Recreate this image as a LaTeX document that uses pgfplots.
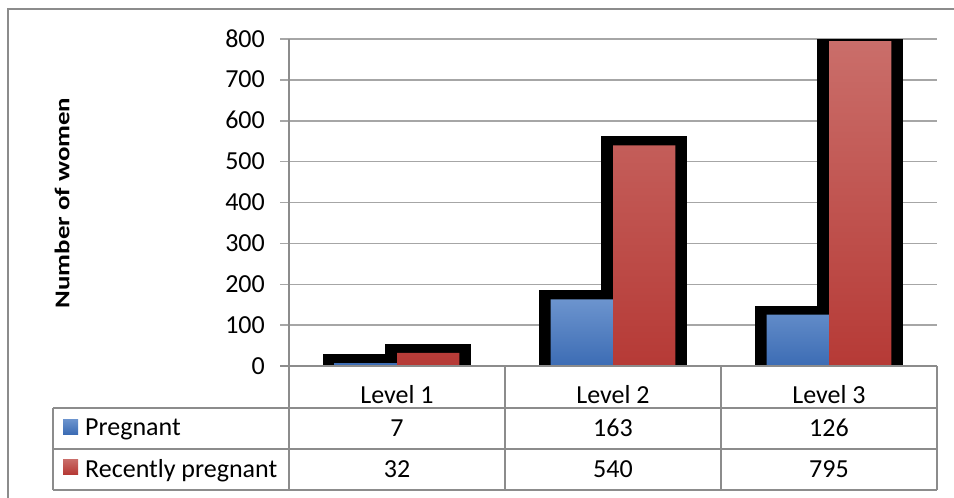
\documentclass[border=0pt]{standalone}
\usepackage{fontspec}
\setmainfont{Carlito}
\usepackage{graphicx}
\usepackage{pgfplots}
\pgfplotsset{compat=1.18}
\definecolor{bluetop}{RGB}{108,148,206}
\definecolor{bluebot}{RGB}{60,108,180}
\definecolor{redtop}{RGB}{202,110,106}
\definecolor{redbot}{RGB}{182,58,54}
\definecolor{tblgray}{RGB}{140,140,140}
\definecolor{gridgray}{RGB}{166,166,166}
\begin{document}
\begin{tikzpicture}[font=\fontsize{26}{31}\selectfont]
\useasboundingbox (0pt,0pt) rectangle (954pt,-498pt);
\draw[tblgray, line width=1.5pt] (8pt,-498pt) -- (8pt,-9pt) -- (954pt,-9pt);
\begin{axis}[
  at={(289pt,-366pt)}, anchor=south west,
  scale only axis, width=648pt, height=327pt,
  xmin=-0.5, xmax=2.5, ymin=0, ymax=800,
  xtick={0,1,2}, xticklabels={Level 1,Level 2,Level 3},
  ytick={0,100,...,800}, ytick pos=left,
  ymajorgrids, grid style={draw=gridgray, line width=1.5pt},
  axis line style={draw=none},
  xtick style={draw=none},
  ytick style={draw=gridgray, line width=1.5pt},
  tick align=outside, major tick length=9pt,
  /pgf/number format/assume math mode=true,
  tick label style={font=\fontsize{26}{31}\selectfont},
  yticklabel style={anchor=base east, inner sep=0pt, xshift=-15pt, yshift=-8pt},
  xticklabel style={anchor=base, inner sep=0pt, yshift=-28pt},
]
\addplot[ybar, bar width=0.3166, bar shift=-0.1445, fill=black, draw=black, line width=18pt, line join=miter]
  coordinates {(0,7) (1,163) (2,126)};
\addplot[ybar, bar width=0.3166, bar shift=0.1445, fill=black, draw=black, line width=18pt, line join=miter]
  coordinates {(0,32) (1,540) (2,795)};
\addplot[ybar, bar width=0.289, bar shift=-0.1445, draw=none, top color=bluetop, bottom color=bluebot]
  coordinates {(0,7) (1,163) (2,126)};
\addplot[ybar, bar width=0.289, bar shift=0.1445, draw=none, top color=redtop, bottom color=redbot]
  coordinates {(0,32) (1,540) (2,795)};
\end{axis}
\begin{scope}[tblgray, line width=1.5pt]
\draw (289pt,-39pt) -- (289pt,-490pt);
\draw (280pt,-366pt) -- (937pt,-366pt);
\draw (53pt,-408pt) -- (937pt,-408pt);
\draw (53pt,-449pt) -- (937pt,-449pt);
\draw (53pt,-490pt) -- (937pt,-490pt);
\draw (53pt,-408pt) -- (53pt,-490pt);
\draw (505pt,-366pt) -- (505pt,-490pt);
\draw (721pt,-366pt) -- (721pt,-490pt);
\draw (937pt,-366pt) -- (937pt,-490pt);
\end{scope}
\shade[top color=bluetop, bottom color=bluebot] (63pt,-419pt) rectangle (78pt,-434pt);
\shade[top color=redtop, bottom color=redbot] (63pt,-459pt) rectangle (78pt,-474pt);
\node[anchor=base west, inner sep=0pt] at (85pt,-435pt) {Pregnant};
\node[anchor=base west, inner sep=0pt] at (85pt,-477pt) {Recently pregnant};
\node[anchor=base, inner sep=0pt] at (397pt,-436pt) {7};
\node[anchor=base, inner sep=0pt] at (613pt,-436pt) {163};
\node[anchor=base, inner sep=0pt] at (829pt,-436pt) {126};
\node[anchor=base, inner sep=0pt] at (397pt,-477pt) {32};
\node[anchor=base, inner sep=0pt] at (613pt,-477pt) {540};
\node[anchor=base, inner sep=0pt] at (829pt,-477pt) {795};
\node[rotate=90, inner sep=0pt] at (62pt,-203pt) {\fontsize{21}{25}\selectfont\bfseries\scalebox{1.28}[1]{Number of women}};
\end{tikzpicture}
\end{document}
